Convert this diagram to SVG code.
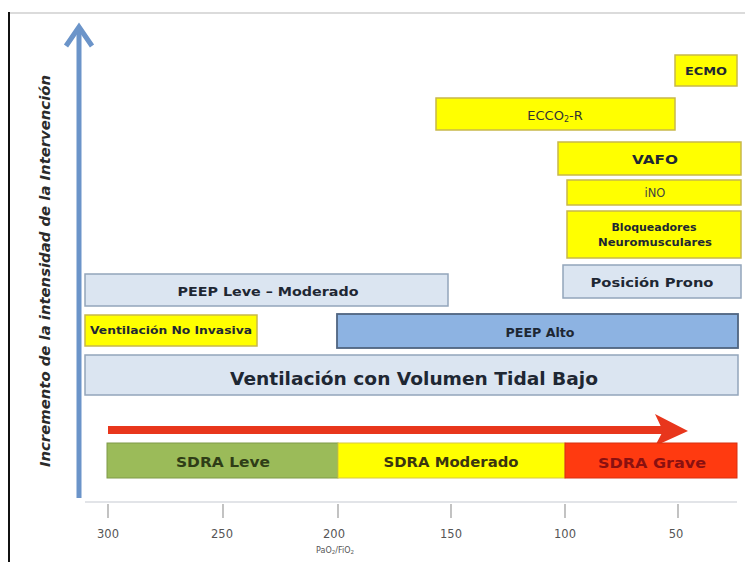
<svg xmlns="http://www.w3.org/2000/svg" width="745" height="562" viewBox="0 0 745 562">
<style>
text{font-family:"DejaVu Sans","Liberation Sans",Arial,sans-serif;text-anchor:middle;dominant-baseline:central}
.lb{fill:#dbe5f1;stroke:#93a5bb;stroke-width:1.5}
.yb{fill:#ffff00;stroke:#c8b84a;stroke-width:1.5}
.mb{fill:#8db3e2;stroke:#4f6480;stroke-width:1.8}
.t{font-weight:bold;fill:#1e2733}
.ax{font-size:11.5px;fill:#555}
</style>
<rect x="0" y="0" width="745" height="562" fill="#ffffff"/>
<g id="frame">
<line x1="9" y1="13" x2="745" y2="13" stroke="#cfcfcf" stroke-width="1.5"/>
<line x1="9" y1="12" x2="9" y2="562" stroke="#111" stroke-width="2"/>
</g>
<g id="connectors">
<line x1="79" y1="498" x2="79" y2="30" stroke="#6b94c9" stroke-width="5"/>
<polyline points="66,46 79,27 92,46" fill="none" stroke="#6b94c9" stroke-width="5" stroke-linejoin="miter"/>
<line x1="108" y1="430" x2="672" y2="430" stroke="#e8361c" stroke-width="8"/>
<polygon points="655,414 688,431 655,446 663,431" fill="#e8361c"/>
<line x1="85" y1="502" x2="737" y2="502" stroke="#d8dbe0" stroke-width="1.5"/>
<g stroke="#9a9a9a" stroke-width="1.2">
<line x1="108" y1="504" x2="108" y2="518"/>
<line x1="223" y1="504" x2="223" y2="518"/>
<line x1="338" y1="504" x2="338" y2="518"/>
<line x1="451" y1="504" x2="451" y2="518"/>
<line x1="565" y1="504" x2="565" y2="518"/>
<line x1="678" y1="504" x2="678" y2="518"/>
</g>
</g>
<g id="yaxis-label">
<text transform="translate(45,271) rotate(-90)" font-size="14" font-style="italic" font-weight="bold" fill="#2a2a2a" textLength="392" lengthAdjust="spacingAndGlyphs">Incremento de la intensidad de la Intervención</text>
</g>
<g id="ecmo"><rect class="yb" x="675" y="55" width="62" height="31"/><text class="t" x="706" y="71" font-size="11" textLength="42" lengthAdjust="spacingAndGlyphs">ECMO</text></g>
<g id="ecco2r"><rect class="yb" x="436" y="98" width="239" height="32"/><text x="555" y="115" font-size="13" fill="#333">ECCO<tspan font-size="8" dy="4">2</tspan><tspan dy="-4">-R</tspan></text></g>
<g id="vafo"><rect class="yb" x="558" y="142" width="183" height="33"/><text class="t" x="655" y="159" font-size="13" textLength="46" lengthAdjust="spacingAndGlyphs">VAFO</text></g>
<g id="ino"><rect class="yb" x="567" y="180" width="174" height="25"/><text x="655" y="193" font-size="11.5" fill="#444">iNO</text></g>
<g id="bloqueadores"><rect class="yb" x="567" y="211" width="174" height="47"/><text class="t" x="654" y="227" font-size="11" textLength="85" lengthAdjust="spacingAndGlyphs">Bloqueadores</text><text class="t" x="655" y="242" font-size="11" textLength="114" lengthAdjust="spacingAndGlyphs">Neuromusculares</text></g>
<g id="prono"><rect class="lb" x="563" y="265" width="178" height="33"/><text class="t" x="652" y="282" font-size="13" textLength="123" lengthAdjust="spacingAndGlyphs">Posición Prono</text></g>
<g id="peep-leve"><rect class="lb" x="85" y="274" width="363" height="32"/><text class="t" x="268" y="291" font-size="12.5" textLength="181" lengthAdjust="spacingAndGlyphs">PEEP  Leve – Moderado</text></g>
<g id="vni"><rect class="yb" x="85" y="315" width="172" height="31"/><text class="t" x="171" y="330" font-size="10.5" textLength="162" lengthAdjust="spacingAndGlyphs">Ventilación No Invasiva</text></g>
<g id="peep-alto"><rect class="mb" x="337" y="314" width="401" height="34"/><text class="t" x="540" y="332" font-size="12.5" textLength="69" lengthAdjust="spacingAndGlyphs">PEEP Alto</text></g>
<g id="vctb"><rect class="lb" x="85" y="355" width="653" height="40"/><text class="t" x="414" y="378" font-size="18" textLength="368" lengthAdjust="spacingAndGlyphs">Ventilación con Volumen Tidal Bajo</text></g>
<g id="sdra-leve"><rect x="107" y="443" width="231" height="35" fill="#9bbb59" stroke="#7f9a48" stroke-width="1"/><text x="223" y="462" font-size="14.5" font-weight="bold" fill="#2f3d17" textLength="94" lengthAdjust="spacingAndGlyphs">SDRA Leve</text></g>
<g id="sdra-moderado"><rect x="338" y="443" width="227" height="35" fill="#ffff00" stroke="#d8c840" stroke-width="1"/><text x="451" y="462" font-size="14.5" font-weight="bold" fill="#3a3510" textLength="135" lengthAdjust="spacingAndGlyphs">SDRA Moderado</text></g>
<g id="sdra-grave"><rect x="565" y="443" width="172" height="35" fill="#ff3a10" stroke="#d83010" stroke-width="1"/><text x="652" y="463" font-size="14.5" font-weight="bold" fill="#8a1010" textLength="108" lengthAdjust="spacingAndGlyphs">SDRA Grave</text></g>
<g id="axis-labels">
<text class="ax" x="108" y="534">300</text>
<text class="ax" x="222" y="534">250</text>
<text class="ax" x="334" y="534">200</text>
<text class="ax" x="451" y="534">150</text>
<text class="ax" x="565" y="534">100</text>
<text class="ax" x="676" y="534">50</text>
<text x="335" y="550" font-size="8" fill="#555">PaO<tspan font-size="5.5" dy="2">2</tspan><tspan dy="-2">/FiO</tspan><tspan font-size="5.5" dy="2">2</tspan></text>
</g>
</svg>
